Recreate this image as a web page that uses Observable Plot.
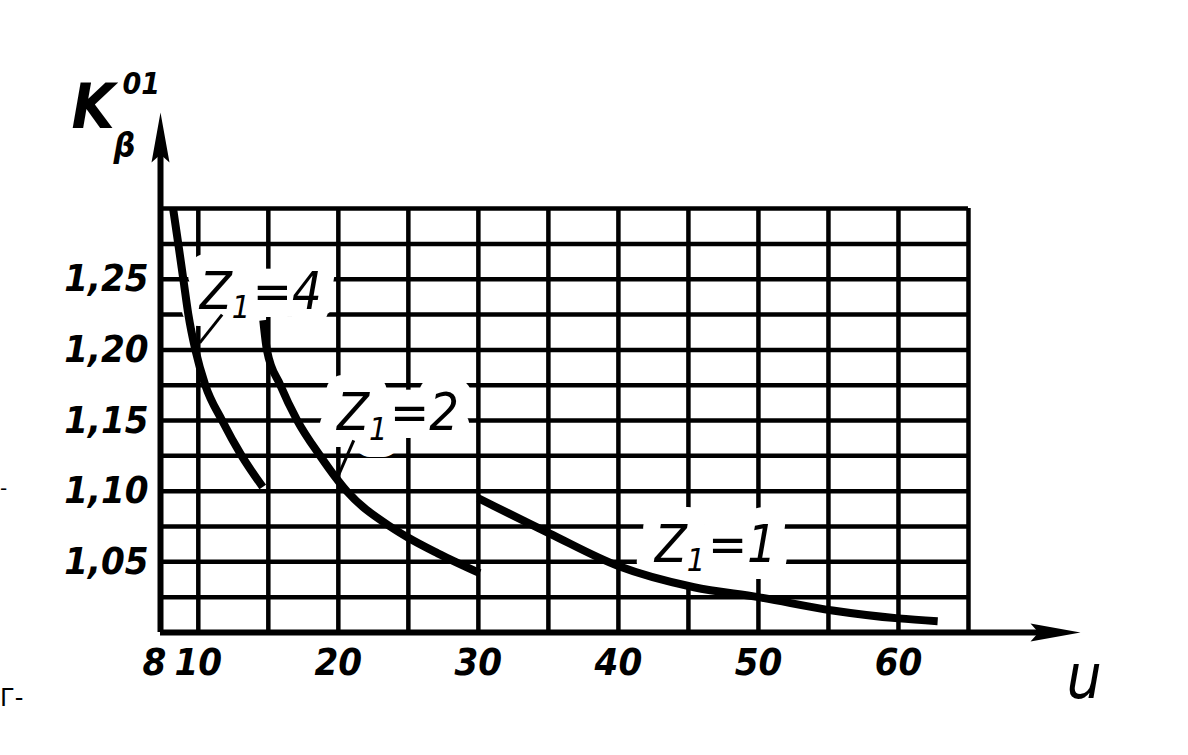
<!DOCTYPE html>
<html><head><meta charset="utf-8">
<script src="https://cdn.jsdelivr.net/npm/d3@7"></script>
<script src="https://cdn.jsdelivr.net/npm/@observablehq/plot@0.6"></script>
<style>
body{margin:0;background:#fff;}
#wrap{position:relative;width:1188px;height:755px;overflow:hidden;background:#fff;}
.stray{position:absolute;font-family:"DejaVu Sans",sans-serif;color:#000;}
</style></head><body><div id="wrap"></div>
<script>
// ---- data ----
const xTickValues = [10, 20, 30, 40, 50, 60];
const xStartTick = [8];
const yTickValues = [1.05, 1.10, 1.15, 1.20, 1.25];
const xGridValues = [10, 15, 20, 25, 30, 35, 40, 45, 50, 55, 60, 65];
const yGridValues = [1.025, 1.05, 1.075, 1.10, 1.125, 1.15, 1.175, 1.20, 1.225, 1.25, 1.275, 1.30];

// curve z1 = 4
const z4u = [8.2, 8.57, 8.93, 9.29, 9.79, 10.5, 11.7, 13.1, 14.6];
const z4k = [1.30, 1.275, 1.25, 1.225, 1.20, 1.175, 1.15, 1.125, 1.103];
// curve z1 = 2
const z2u = [14.64, 14.9, 15.86, 17.07, 18.7, 20.6, 23.7, 25.0, 27.1, 30.1];
const z2k = [1.221, 1.20, 1.175, 1.15, 1.125, 1.10, 1.075, 1.067, 1.056, 1.042];
// curve z1 = 1
const z1u = [30.0, 35.1, 40.0, 45.4, 50.0, 55.3, 60.0, 62.8];
const z1k = [1.095, 1.070, 1.047, 1.032, 1.025, 1.0156, 1.010, 1.008];

const seriesNames = ["Z1=4", "Z1=2", "Z1=1"];
const labelU = [10.1, 19.9, 42.6];
const labelK = [1.241, 1.155, 1.062];
// leader lines (from curve to label)
const leaderU1 = [10.1, 20.0];
const leaderK1 = [1.205, 1.111];
const leaderU2 = [11.7, 21.1];
const leaderK2 = [1.225, 1.136];

const xMin = 7.3, xMax = 73, yMin = 1.0, yMax = 1.368;
const gridRight = 65, gridTop = 1.30;

// ---- build tables ----
const curves = [
  ...z4u.map((u, i) => ({series: seriesNames[0], u, k: z4k[i]})),
  ...z2u.map((u, i) => ({series: seriesNames[1], u, k: z2k[i]})),
  ...z1u.map((u, i) => ({series: seriesNames[2], u, k: z1k[i]}))
];
const labels = seriesNames.map((s, i) => ({s, u: labelU[i], k: labelK[i]}));
const leaders = leaderU1.map((u, i) => ({u1: u, k1: leaderK1[i], u2: leaderU2[i], k2: leaderK2[i]}));

const arrowHead = {
  draw(ctx) {
    ctx.moveTo(0, 0);
    ctx.lineTo(-50, -9);
    ctx.lineTo(-42, 0);
    ctx.lineTo(-50, 9);
    ctx.closePath();
  }
};

const hand = "'DejaVu Sans Condensed','DejaVu Sans',sans-serif";

const chart = Plot.plot({
  width: 1188, height: 755,
  marginLeft: 160, marginRight: 108, marginTop: 112, marginBottom: 123,
  x: {domain: [xMin, xMax], axis: null},
  y: {domain: [yMin, yMax], axis: null},
  style: {background: "#fff", color: "#000"},
  marks: [
    // grid
    Plot.ruleX(xGridValues, {y1: yMin, y2: gridTop, stroke: "#000", strokeWidth: 4.5}),
    Plot.ruleY(yGridValues, {x1: xMin, x2: gridRight, stroke: "#000", strokeWidth: 4.5}),
    // axes
    Plot.ruleY([yMin], {x1: xMin, x2: xMax - 2.5, stroke: "#000", strokeWidth: 6}),
    Plot.ruleX([xMin], {y1: yMin, y2: yMax - 0.025, stroke: "#000", strokeWidth: 6}),
    Plot.dot([{x: xMax, y: yMin}], {x: "x", y: "y", symbol: arrowHead, fill: "#000", stroke: null}),
    Plot.dot([{x: xMin, y: yMax}], {x: "x", y: "y", symbol: arrowHead, rotate: -90, fill: "#000", stroke: null}),
    // label halos (white gaps in the grid)
    Plot.text(labels, {x: "u", y: "k", text: "s", textAnchor: "start", lineAnchor: "middle",
      fontSize: 52, fontStyle: "italic", fontFamily: hand, fill: "#fff", stroke: "#fff",
      strokeWidth: 34, strokeLinejoin: "round"}),
    // curves
    Plot.line(curves, {x: "u", y: "k", z: "series", curve: "monotone-x", stroke: "#000", strokeWidth: 8, strokeLinecap: "butt"}),
    // leaders
    Plot.link(leaders, {x1: "u1", y1: "k1", x2: "u2", y2: "k2", stroke: "#000", strokeWidth: 3}),
    // labels
    Plot.text(labels, {x: "u", y: "k", text: "s", textAnchor: "start", lineAnchor: "middle",
      fontSize: 52, fontStyle: "italic", fontFamily: hand, fill: "#000"}),
    // tick labels
    Plot.axisY(yTickValues, {tickSize: 0, tickPadding: 12, tickFormat: d => d3.format(".2f")(d).replace(".", ","),
      fontSize: 38, fontStyle: "italic", fontWeight: "bold", fontFamily: hand}),
    Plot.axisX(xTickValues, {tickSize: 0, tickPadding: 16, tickFormat: d => String(d),
      fontSize: 38, fontStyle: "italic", fontWeight: "bold", fontFamily: hand}),
    Plot.axisX(xStartTick, {tickSize: 0, tickPadding: 16, dx: -16, tickFormat: d => String(d),
      fontSize: 38, fontStyle: "italic", fontWeight: "bold", fontFamily: hand}),
    // axis titles
    Plot.text(["K"], {frameAnchor: "top-left", text: d => d, textAnchor: "start", lineAnchor: "bottom",
      dx: -89, dy: 15, fontSize: 62, fontStyle: "italic", fontWeight: "bold", fontFamily: hand}),
    Plot.text(["β"], {frameAnchor: "top-left", text: d => d, textAnchor: "start", lineAnchor: "bottom",
      dx: -47, dy: 44, fontSize: 34, fontStyle: "italic", fontWeight: "bold", fontFamily: hand}),
    Plot.text(["01"], {frameAnchor: "top-left", text: d => d, textAnchor: "start", lineAnchor: "bottom",
      dx: -38, dy: -19, fontSize: 30, fontStyle: "italic", fontWeight: "bold", fontFamily: hand}),
    Plot.text(["u"], {frameAnchor: "bottom-right", text: d => d, textAnchor: "start", lineAnchor: "bottom",
      dx: -14, dy: 65, fontSize: 62, fontStyle: "italic", fontFamily: hand})
  ]
});

// turn "Z1=4" into Z with subscript 1
chart.querySelectorAll("text").forEach(t => {
  const m = t.textContent.match(/^Z1(=\d)$/);
  if (m && t.children.length === 0) {
    t.textContent = "";
    const ns = "http://www.w3.org/2000/svg";
    const a = document.createElementNS(ns, "tspan"); a.textContent = "Z";
    const b = document.createElementNS(ns, "tspan"); b.textContent = "1";
    b.setAttribute("dy", "0.3em"); b.setAttribute("font-size", "0.62em");
    const c = document.createElementNS(ns, "tspan"); c.textContent = m[1];
    c.setAttribute("dy", "-0.186em"); c.setAttribute("dx", "0.05em");
    t.appendChild(a); t.appendChild(b); t.appendChild(c);
  }
});

const wrap = document.getElementById("wrap");
wrap.appendChild(chart);
const s1 = document.createElement("div"); s1.className = "stray";
s1.style.left = "0px"; s1.style.top = "476px"; s1.style.fontSize = "20px"; s1.textContent = "-";
const s2 = document.createElement("div"); s2.className = "stray";
s2.style.left = "0px"; s2.style.top = "684px"; s2.style.fontSize = "24px"; s2.textContent = "Г-";
wrap.appendChild(s1); wrap.appendChild(s2);
</script></body></html>
